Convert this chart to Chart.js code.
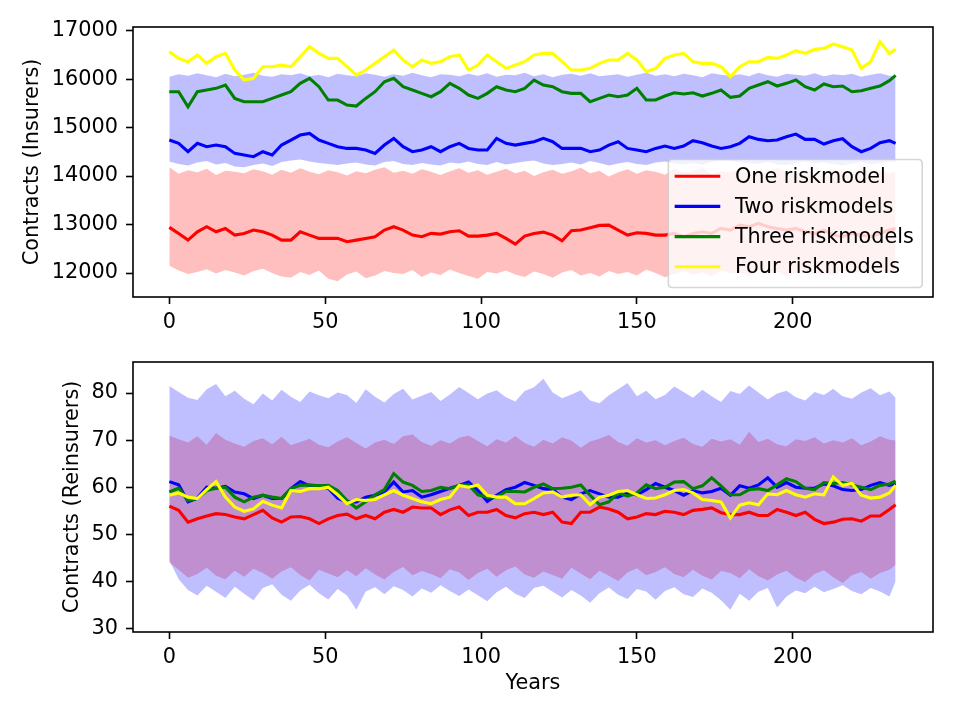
<!DOCTYPE html>
<html><head><meta charset="utf-8">
<script src="https://cdn.jsdelivr.net/npm/chart.js@4/dist/chart.umd.min.js"></script>
<style>
html,body{margin:0;padding:0;background:#fff;}
#wrap{position:relative;width:960px;height:720px;background:#fff;}
canvas{position:absolute;left:0;top:0;}
</style></head><body>
<div id="wrap">
<canvas id="cTop" width="960" height="720"></canvas>
<canvas id="cBot" width="960" height="720"></canvas>
</div>
<script>
// ---------- data ----------
const years = [0,3,6,9,12,15,18,21,24,27,30,33,36,39,42,45,48,51,54,57,60,63,66,69,72,75,78,81,84,87,90,93,96,99,102,105,108,111,114,117,120,123,126,129,132,135,138,141,144,147,150,153,156,159,162,165,168,171,174,177,180,183,186,189,192,195,198,201,204,207,210,213,216,219,222,225,228,231,233];
const seriesLabels = ["One riskmodel","Two riskmodels","Three riskmodels","Four riskmodels"];
const xTicks = [0,50,100,150,200];
const insTicks = [12000,13000,14000,15000,16000,17000];
const reTicks = [30,40,50,60,70,80];

// Insurers (top panel)
const insOne = [12941,12817,12679,12851,12955,12851,12920,12782,12817,12886,12851,12782,12679,12679,12851,12782,12714,12714,12714,12645,12679,12714,12748,12886,12955,
12886,12782,12748,12817,12803,12851,12872,12762,12762,12782,12817,12714,12597,12762,12817,12844,12782,12665,12872,12886,12934,12982,12989,12886,12782,12830,12817,12782,
12782,12817,12748,12817,12851,12817,12920,12886,12989,12955,13024,12955,12920,12886,12920,12851,12817,12886,12782,12748,12817,12782,12748,12817,12886,12920];
const insTwo = [14743,14675,14503,14675,14606,14640,14606,14468,14434,14400,14503,14434,14640,14743,14847,14881,14743,14675,14606,14571,14571,14537,14468,14640,14778,
14606,14503,14537,14606,14503,14606,14675,14571,14537,14537,14778,14675,14640,14675,14709,14778,14709,14571,14571,14571,14503,14537,14640,14709,14571,14537,14503,14571,
14620,14571,14620,14730,14688,14620,14571,14606,14675,14812,14757,14730,14743,14812,14867,14757,14757,14661,14730,14771,14606,14503,14571,14688,14730,14675];
const insThree = [15741,15741,15431,15741,15775,15810,15879,15603,15535,15535,15535,15603,15672,15741,15913,16016,15844,15569,15569,15466,15445,15603,15741,15947,16016,
15844,15775,15707,15638,15741,15913,15810,15672,15603,15707,15844,15775,15741,15810,15982,15879,15844,15741,15707,15707,15535,15603,15672,15638,15672,15810,15569,15569,
15651,15720,15693,15720,15651,15707,15775,15624,15651,15810,15879,15947,15858,15913,15982,15844,15775,15899,15844,15858,15741,15762,15810,15858,15968,16078];
const insFour = [16567,16429,16360,16498,16326,16463,16532,16188,15982,16016,16257,16257,16291,16257,16463,16670,16532,16429,16429,16257,16085,16188,16326,16463,16601,
16395,16257,16395,16326,16360,16463,16498,16188,16291,16498,16360,16223,16291,16360,16498,16532,16532,16360,16188,16188,16223,16326,16395,16395,16532,16395,16154,16223,
16429,16498,16532,16360,16326,16326,16257,16051,16257,16360,16360,16450,16429,16498,16587,16532,16615,16635,16725,16670,16601,16223,16360,16773,16532,16615];
const insOneHi = [14180,14050,14120,14080,14150,14020,14110,14090,14060,14140,14100,14030,14130,14070,14160,14090,14040,14120,14080,14010,14100,14060,14130,14180,14070,14110,14050,14140,14090,14020,14100,14160,14070,14120,14030,14090,14150,14060,14110,14000,14080,14130,14050,14100,14170,14060,14110,13990,14080,14140,14050,14120,14090,14030,14150,14070,14110,14180,14040,14100,14080,14140,14020,14110,14070,14160,14090,14050,14120,14080,14030,14140,14100,14060,14170,14090,14120,14050,14100];
const insOneLo = [12150,12050,11980,12020,12080,11990,12060,12010,11950,12040,12090,12000,11930,11900,12020,11960,12050,11880,11830,11970,12030,11890,11950,12040,12000,11980,12060,11920,12010,11960,12070,12000,11940,11880,12020,11990,12050,11970,11920,12030,11980,11900,12010,12060,11950,12000,11930,12040,11980,12020,11950,12070,12000,11910,11980,12040,11960,12010,11930,12050,11990,12020,11940,12060,11980,12030,11920,12000,12050,11970,12010,11940,12060,11990,12030,11960,12040,12000,12080];
const insTwoHi = [16050,16100,16070,16120,16080,16040,16110,16060,16090,16130,16070,16050,16100,16080,16120,16060,16090,16040,16110,16080,16060,16120,16090,16050,16100,16070,16130,16080,16040,16100,16090,16060,16110,16070,16120,16050,16090,16080,16130,16060,16100,16040,16090,16110,16070,16120,16060,16080,16100,16050,16090,16130,16070,16100,16060,16110,16080,16040,16120,16090,16070,16100,16060,16130,16080,16050,16110,16090,16070,16120,16060,16100,16080,16110,16050,16090,16120,16070,16060];
const insTwoLo = [14300,14250,14220,14280,14310,14240,14270,14200,14180,14230,14260,14210,14290,14320,14340,14300,14270,14250,14230,14260,14280,14240,14220,14290,14310,14250,14230,14270,14240,14220,14280,14260,14300,14250,14230,14290,14240,14270,14300,14320,14260,14230,14250,14280,14240,14310,14270,14220,14260,14290,14250,14230,14280,14300,14260,14240,14270,14230,14290,14320,14310,14280,14260,14250,14290,14240,14230,14270,14300,14260,14280,14250,14220,14260,14290,14240,14270,14300,14280];

// Reinsurers (bottom panel)
const reOne = [56.0,55.1,52.6,53.3,53.9,54.4,54.2,53.7,53.3,54.2,55.1,53.5,52.6,53.7,53.8,53.3,52.3,53.3,54.0,54.3,53.3,54.0,53.3,54.7,55.3,
54.7,55.8,55.6,55.6,54.2,55.2,55.8,54.0,54.7,54.7,55.3,54.0,53.5,54.4,54.7,54.2,54.7,52.6,52.3,54.7,54.7,55.8,55.4,54.7,53.3,53.7,54.4,54.2,
54.9,54.7,54.2,55.1,55.3,55.6,54.6,54.2,54.2,54.7,54.0,54.0,55.3,54.7,54.0,54.7,53.2,52.3,52.6,53.2,53.3,52.8,53.9,53.9,55.3,56.3];
const reTwo = [61.2,60.5,56.9,57.7,60.0,59.8,60.2,59.0,58.6,57.6,58.3,57.6,57.6,59.7,61.2,60.3,60.3,59.8,57.7,56.9,56.9,57.9,58.3,59.0,61.1,
59.0,59.3,57.9,58.4,59.1,59.8,60.4,61.1,59.3,57.0,58.3,59.5,60.0,61.0,60.4,59.7,59.5,57.9,57.4,58.6,59.3,58.6,57.9,57.9,58.8,58.4,59.5,60.8,
60.0,59.3,58.3,59.3,58.8,59.1,59.8,58.3,60.3,59.8,60.5,62.0,60.0,61.0,60.0,59.8,59.8,60.7,60.3,59.5,59.3,59.5,60.4,61.0,60.4,60.8];
const reThree = [59.0,59.8,57.2,57.6,59.3,59.8,60.0,57.9,56.9,57.9,58.3,57.9,57.6,59.7,60.4,60.5,60.3,60.4,59.3,57.2,55.6,56.9,58.4,59.5,62.9,
61.1,60.4,59.1,59.3,60.0,59.7,60.4,60.5,58.4,57.9,57.9,59.1,59.1,59.0,60.0,60.7,59.7,59.8,60.0,60.5,58.3,56.3,56.9,58.8,58.1,58.8,60.5,59.7,
60.0,61.1,61.2,59.7,60.3,62.0,60.3,58.4,58.4,59.5,59.7,59.3,60.5,61.8,61.2,59.8,59.5,61.0,60.8,61.0,60.5,60.0,59.5,60.4,60.7,61.3];
const reFour = [58.3,58.8,57.9,57.6,59.5,61.2,57.9,55.8,54.9,55.4,57.0,56.2,55.6,59.3,59.1,59.7,59.7,60.0,58.4,56.5,57.4,57.2,57.4,58.4,59.3,
58.3,57.6,56.9,56.5,57.4,57.9,60.4,60.0,60.5,58.3,57.9,57.9,56.5,56.5,57.6,58.8,59.0,57.9,58.3,58.4,56.3,57.9,58.3,59.1,59.3,58.4,57.6,57.7,
58.4,59.3,59.5,58.8,57.4,57.2,56.9,53.5,56.2,56.7,56.3,58.6,58.4,59.3,58.4,57.9,58.6,58.4,62.2,60.4,60.8,58.3,57.7,57.9,58.8,60.4];
const reOneHi = [71.0,70.2,69.5,70.8,69.0,71.5,70.1,69.3,68.6,69.8,70.4,69.1,70.7,68.9,69.6,70.3,69.0,68.5,69.7,70.6,69.4,68.2,69.5,70.1,69.2,70.8,71.2,69.6,68.8,70.0,69.3,70.5,71.0,69.8,68.7,70.2,69.5,70.9,69.4,68.6,70.1,69.3,70.6,69.9,68.4,69.7,70.3,71.1,69.6,68.8,70.4,69.5,70.0,68.9,69.8,70.5,69.2,68.6,70.3,69.7,70.2,69.0,71.8,69.6,70.3,69.1,68.7,70.2,69.8,70.6,69.3,70.0,69.5,70.4,68.9,69.7,70.8,70.1,69.9];
const reOneLo = [44.0,42.5,40.8,41.6,42.9,41.2,40.5,42.3,41.0,42.7,41.8,40.6,42.1,43.0,41.4,40.2,42.5,41.7,40.9,42.4,41.1,42.8,41.5,40.4,42.0,43.1,41.3,42.2,41.6,40.7,42.6,41.9,40.3,41.8,42.7,41.0,42.4,43.2,41.5,40.8,42.1,41.4,40.6,42.9,41.7,40.5,42.3,41.2,40.1,41.9,42.8,41.3,42.0,43.0,41.6,40.9,42.5,41.2,40.4,42.2,41.8,40.7,42.6,41.1,40.2,41.5,42.3,40.8,39.9,41.6,42.4,40.9,39.7,41.3,42.0,40.6,41.8,42.5,43.5];
const reTwoHi = [81.5,80.2,79.0,78.5,80.8,81.9,79.3,80.5,78.8,77.6,79.9,78.4,80.7,79.2,78.1,80.3,79.5,78.9,80.1,79.6,77.9,80.8,79.2,78.0,79.8,80.9,78.6,79.4,80.2,78.3,79.7,81.3,80.0,78.7,79.9,80.6,79.1,78.2,80.4,81.2,83.0,80.1,78.9,79.7,80.6,78.4,77.8,79.5,80.8,82.1,79.3,80.5,78.7,79.6,81.4,80.2,79.0,80.7,79.3,78.1,80.4,79.8,81.6,80.1,78.6,79.9,80.5,79.1,78.4,80.2,79.6,80.9,79.3,78.8,80.1,81.0,79.5,80.3,79.0];
const reTwoLo = [44.5,40.5,38.2,37.0,39.1,37.8,36.5,38.9,37.4,36.0,38.6,39.4,37.2,35.9,38.1,39.3,37.5,36.2,38.4,37.0,34.0,37.9,38.8,37.3,39.0,38.2,36.8,38.5,37.6,39.2,38.0,36.9,38.3,37.1,35.8,37.7,38.9,37.4,36.5,38.6,39.1,37.8,36.6,38.2,37.0,35.5,37.5,38.7,37.2,36.3,38.4,37.9,36.1,38.0,38.8,37.3,36.7,38.5,37.6,36.0,34.0,37.4,35.9,37.8,38.6,34.5,36.8,38.1,37.5,38.9,37.7,38.4,39.2,38.0,37.3,38.6,37.9,36.8,40.0];

// ---------- helpers ----------
const FONT = 'DejaVu Sans';
const FS = 20.8;
Chart.defaults.font.family = FONT;
Chart.defaults.font.size = FS;
Chart.defaults.color = '#000';
Chart.defaults.animation = false;

const pts = arr => arr.map((v, i) => ({x: years[i], y: v}));
const lineColors = ['#ff0000', '#0000ff', '#008000', '#ffff00'];

function lineDs(label, arr, color, order) {
  return {label, data: pts(arr), borderColor: color, backgroundColor: color, borderWidth: 3.1,
    pointRadius: 0, tension: 0, fill: false, order, isSeries: true};
}
function bandDs(arr, color, fillTarget, order) {
  return {label: '', data: pts(arr), borderColor: 'rgba(0,0,0,0)', borderWidth: 0, backgroundColor: color,
    pointRadius: 0, tension: 0, fill: fillTarget === null ? false : {target: fillTarget}, order};
}

const framePlugin = {
  id: 'frame',
  afterDraw(chart) {
    const {ctx, chartArea: a} = chart;
    ctx.save();
    ctx.strokeStyle = '#000';
    ctx.lineWidth = 1.6;
    ctx.strokeRect(a.left, a.top, a.right - a.left, a.bottom - a.top);
    ctx.restore();
  }
};

const mplLegend = {
  id: 'mplLegend',
  afterDraw(chart, args, opts) {
    if (!opts || !opts.show) return;
    const {ctx, chartArea: a} = chart;
    const items = chart.data.datasets.filter(d => d.isSeries);
    ctx.save();
    ctx.font = FS + 'px ' + FONT;
    let tw = 0;
    items.forEach(d => { tw = Math.max(tw, ctx.measureText(d.label).width); });
    const em = FS;
    const pad = 0.4 * em, handle = 2 * em, hpad = 0.8 * em, step = 30.2;
    const w = pad + handle + hpad + tw + pad;
    const h = 128;
    const right = a.right - 10.8, bottom = a.bottom - 9.5;
    const left = right - w, top = bottom - h;
    const r = 4;
    ctx.beginPath();
    ctx.moveTo(left + r, top);
    ctx.lineTo(right - r, top); ctx.quadraticCurveTo(right, top, right, top + r);
    ctx.lineTo(right, bottom - r); ctx.quadraticCurveTo(right, bottom, right - r, bottom);
    ctx.lineTo(left + r, bottom); ctx.quadraticCurveTo(left, bottom, left, bottom - r);
    ctx.lineTo(left, top + r); ctx.quadraticCurveTo(left, top, left + r, top);
    ctx.closePath();
    ctx.fillStyle = 'rgba(255,255,255,0.8)';
    ctx.fill();
    ctx.strokeStyle = 'rgba(204,204,204,0.8)';
    ctx.lineWidth = 1.6;
    ctx.stroke();
    items.forEach((d, i) => {
      const cy = top + 16.7 + i * step;
      ctx.beginPath();
      ctx.moveTo(left + pad - 2, cy);
      ctx.lineTo(left + pad + handle + 2, cy);
      ctx.strokeStyle = d.borderColor;
      ctx.lineWidth = 3.1;
      ctx.stroke();
      ctx.fillStyle = '#000';
      ctx.textBaseline = 'middle';
      ctx.textAlign = 'left';
      ctx.fillText(d.label, left + pad + handle + hpad, cy + 1);
    });
    ctx.restore();
  }
};

function makeChart(id, cfg) {
  const datasets = [
    lineDs(seriesLabels[0], cfg.one, lineColors[0], 4),
    lineDs(seriesLabels[1], cfg.two, lineColors[1], 3),
    lineDs(seriesLabels[2], cfg.three, lineColors[2], 2),
    lineDs(seriesLabels[3], cfg.four, lineColors[3], 1),
    bandDs(cfg.oneHi, 'rgba(255,0,0,0.25)', 5, 20),  // index 4 -> fill to 5
    bandDs(cfg.oneLo, 'rgba(0,0,0,0)', null, 21),    // index 5
    bandDs(cfg.twoHi, 'rgba(0,0,255,0.25)', 7, 10),  // index 6 -> fill to 7
    bandDs(cfg.twoLo, 'rgba(0,0,0,0)', null, 11)     // index 7
  ];
  return new Chart(document.getElementById(id), {
    type: 'line',
    data: {datasets},
    plugins: [framePlugin, mplLegend],
    options: {
      responsive: false,
      animation: false,
      events: [],
      layout: {padding: {top: cfg.padTop, right: 27, left: 0, bottom: 0}},
      plugins: {legend: {display: false}, tooltip: {enabled: false}, mplLegend: {show: cfg.legend}},
      scales: {
        x: {
          type: 'linear', min: -11.65, max: 245,
          afterBuildTicks: s => { s.ticks = xTicks.map(v => ({value: v})); },
          afterFit: s => { s.height = cfg.xHeight; },
          ticks: {callback: v => String(v), padding: 6, maxRotation: 0, autoSkip: false, color: '#000'},
          grid: {display: true, drawOnChartArea: false, drawTicks: true, tickLength: 7, tickWidth: 1.6, tickColor: '#000'},
          border: {display: false},
          title: {display: cfg.xTitle, text: 'Years', color: '#000', font: {size: FS}, padding: {top: 0, bottom: 24}}
        },
        y: {
          type: 'linear', min: cfg.yMin, max: cfg.yMax,
          afterBuildTicks: s => { s.ticks = cfg.yTicks.map(v => ({value: v})); },
          afterFit: s => { s.width = 133; },
          ticks: {callback: v => String(v), padding: 8, autoSkip: false, color: '#000'},
          grid: {display: true, drawOnChartArea: false, drawTicks: true, tickLength: 7, tickWidth: 1.6, tickColor: '#000'},
          border: {display: false},
          title: {display: true, text: cfg.yTitle, color: '#000', font: {size: FS}, padding: {top: cfg.yTitlePad, bottom: 0}}
        }
      }
    }
  });
}

makeChart('cTop', {
  one: insOne, two: insTwo, three: insThree, four: insFour,
  oneHi: insOneHi, oneLo: insOneLo, twoHi: insTwoHi, twoLo: insTwoLo,
  padTop: 27, xHeight: 423, xTitle: false, legend: true,
  yMin: 11505, yMax: 17076, yTicks: insTicks, yTitle: 'Contracts (Insurers)', yTitlePad: 20
});
makeChart('cBot', {
  one: reOne, two: reTwo, three: reThree, four: reFour,
  oneHi: reOneHi, oneLo: reOneLo, twoHi: reTwoHi, twoLo: reTwoLo,
  padTop: 362, xHeight: 88, xTitle: true, legend: false,
  yMin: 29.28, yMax: 86.58, yTicks: reTicks, yTitle: 'Contracts (Reinsurers)', yTitlePad: 60
});
</script>
</body></html>
